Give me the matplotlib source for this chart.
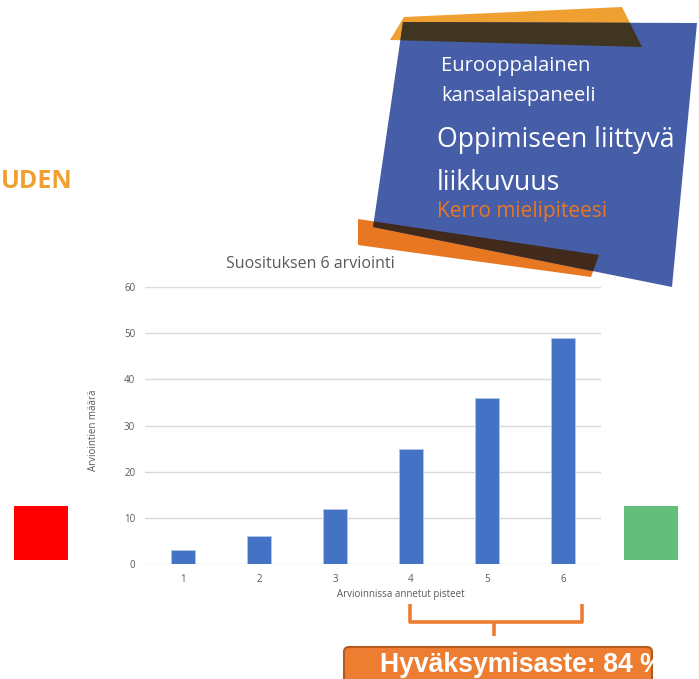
"""
Suosituksen 6 arviointi - bar chart with slide decorations
"""
import matplotlib
matplotlib.use("Agg")
import matplotlib.pyplot as plt
from matplotlib.patches import Polygon, Rectangle, FancyBboxPatch
from matplotlib.path import Path
from matplotlib.patches import PathPatch

# data
points = ["1", "2", "3", "4", "5", "6"]
counts = [3, 6, 12, 25, 36, 49]
y_ticks = [0, 10, 20, 30, 40, 50, 60]

W, H = 699, 679
DPI = 100

fig = plt.figure(figsize=(W / DPI, H / DPI), dpi=DPI)
fig.patch.set_facecolor("white")

# overlay axes in pixel coordinates (y down) for the slide decorations
deco = fig.add_axes([0, 0, 1, 1], zorder=0)
deco.set_xlim(0, W)
deco.set_ylim(H, 0)
deco.axis("off")

light_orange = "#F0A030"
orange = "#E87722"
blue = "#465EA8"

# orange bands at the top and bottom of the panel
top_band = [(390, 40), (404, 17), (622, 7), (642, 47)]
bottom_band = [(358, 219), (599, 255), (591, 277), (358, 245)]
panel = [(403, 22), (697, 23), (672, 287), (373, 227)]

deco.add_patch(Polygon(top_band, closed=True, fc=light_orange, ec="none", zorder=1))
deco.add_patch(Polygon(bottom_band, closed=True, fc=orange, ec="none", zorder=1))
panel_patch = Polygon(panel, closed=True, fc=blue, ec="none", zorder=2)
deco.add_patch(panel_patch)
# dark overlap where bands sit on the blue panel (multiply look)
for band, c in [(top_band, "#403520"), (bottom_band, "#41291B")]:
    p = Polygon(band, closed=True, fc=c, ec="none", zorder=3)
    deco.add_patch(p)
    p.set_clip_path(panel_patch)

deco.text(441, 66, "Eurooppalainen", color="white", fontsize=14.5, family="Open Sans",
          va="center", ha="left", zorder=4)
deco.text(441, 96, "kansalaispaneeli", color="white", fontsize=14.5, family="Open Sans",
          va="center", ha="left", zorder=4)
deco.text(437, 140, "Oppimiseen liittyvä", color="white", fontsize=19.2, family="Open Sans",
          va="center", ha="left", zorder=4)
deco.text(437, 183, "liikkuvuus", color="white", fontsize=19.2, family="Open Sans",
          va="center", ha="left", zorder=4)
deco.text(437, 212, "Kerro mielipiteesi", color=orange, fontsize=15, family="Open Sans",
          va="center", ha="left", zorder=4)

# cut-off heading on the left
deco.text(1, 182, "UDEN", color=light_orange, fontsize=18, family="Open Sans",
          fontweight="bold", va="center", ha="left")

# red / green squares
deco.add_patch(Rectangle((14, 506), 54, 54, fc="#FF0000", ec="none"))
deco.add_patch(Rectangle((624, 506), 54, 54, fc="#63BE7B", ec="none"))

# bracket under bars 4-6
br = "#ED7D31"
verts = [(410, 604), (410, 622), (582, 622), (582, 604)]
deco.add_patch(PathPatch(Path(verts), fc="none", ec=br, lw=2.6, joinstyle="round",
                         capstyle="butt"))
deco.plot([494, 494], [622, 636], color=br, lw=2.6, solid_capstyle="butt")

# acceptance box
box = FancyBboxPatch((344, 647), 308, 40, boxstyle="round,pad=0,rounding_size=5",
                     fc="#ED7D31", ec="#B55A1E", lw=1.5, zorder=5)
deco.add_patch(box)
t = deco.text(380, 665, "Hyväksymisaste: 84 %", color="white", fontsize=19.2,
              family="Liberation Sans", fontweight="bold", va="center", ha="left", zorder=6)
t.set_clip_path(box)

# chart axes
left, right = 145, 601
top, bottom = 287, 564
ax = fig.add_axes([left / W, 1 - bottom / H, (right - left) / W, (bottom - top) / H], zorder=2)
ax.patch.set_alpha(0)

x = list(range(len(points)))
ax.bar(x, counts, width=0.31, color="#4472C4", edgecolor="#B4C7E7", linewidth=0.6, zorder=3)
ax.set_xlim(-0.5, len(points) - 0.5)
ax.set_ylim(0, 60)
ax.set_yticks(y_ticks)
ax.set_xticks(x)
ax.set_xticklabels(points)
ax.grid(axis="y", color="#D9D9D9", lw=1, zorder=0)
ax.tick_params(length=0, labelsize=7, labelcolor="#595959", pad=7)
for s in ax.spines.values():
    s.set_visible(False)
for lab in ax.get_xticklabels() + ax.get_yticklabels():
    lab.set_family("Open Sans")

fig.text(310 / W, 1 - 264 / H, "Suosituksen 6 arviointi", ha="center", va="center",
         fontsize=11.5, color="#595959", family="Open Sans")
fig.text(401 / W, 1 - 595 / H, "Arvioinnissa annetut pisteet", ha="center", va="center",
         fontsize=7, color="#595959", family="Open Sans")
fig.text(94 / W, 1 - 430 / H, "Arviointien määrä", ha="center", va="center", rotation=90,
         fontsize=7, color="#595959", family="Open Sans")

fig.savefig("out.png", dpi=DPI)
